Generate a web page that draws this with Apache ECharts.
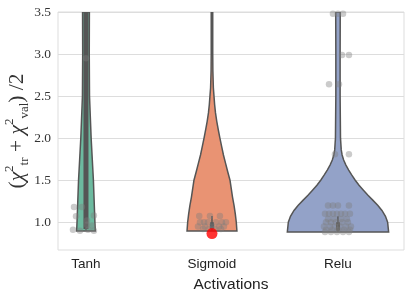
<!DOCTYPE html>
<html><head><meta charset="utf-8">
<script src="https://cdn.jsdelivr.net/npm/echarts@6/dist/echarts.min.js"></script>
<style>html,body{margin:0;padding:0;background:#fff}#c{width:411px;height:296px}</style>
</head><body><div id="c"></div>
<script>
// ---- data ----
const categories = ['Tanh', 'Sigmoid', 'Relu'];
const yTicks = [1.0, 1.5, 2.0, 2.5, 3.0, 3.5];

// violin outlines: value levels and half-widths (x-axis units)
const tanhLevels = [0.896, 1.0, 1.25, 1.5, 1.75, 2.0, 2.5, 3.0, 3.5];
const tanhHalf   = [0.074, 0.071, 0.065, 0.059, 0.050, 0.041, 0.028, 0.026, 0.027];
const sigmoidLevels = [0.896, 1.0, 1.1, 1.2, 1.3, 1.4, 1.5, 1.6, 1.7, 1.8, 1.9, 2.0, 2.1, 2.2, 2.3, 2.4, 2.5, 2.6, 2.7, 2.8, 3.0, 3.5];
const sigmoidHalf   = [0.198, 0.193, 0.185, 0.175, 0.163, 0.153, 0.143, 0.125, 0.108, 0.091, 0.077, 0.063, 0.050, 0.038, 0.028, 0.021, 0.016, 0.011, 0.009, 0.007, 0.006, 0.006];
const reluLevels = [0.884, 1.0, 1.07, 1.14, 1.2, 1.26, 1.32, 1.38, 1.44, 1.5, 1.56, 1.62, 1.68, 1.74, 1.8, 1.86, 2.0, 2.5, 3.0, 3.5];
const reluHalf   = [0.402, 0.394, 0.377, 0.349, 0.317, 0.278, 0.238, 0.202, 0.167, 0.137, 0.110, 0.085, 0.063, 0.045, 0.033, 0.026, 0.020, 0.017, 0.017, 0.018];

// inner box: whisker low, q1, q3, whisker high
const boxWhiskerLow  = [0.90, 0.90, 0.885];
const boxQ1          = [0.92, 0.92, 0.90];
const boxQ3          = [3.60, 1.00, 1.00];
const boxWhiskerHigh = [3.60, 1.075, 1.07];

// strip points: jitter offsets (x units) and values
const tanhJitter = [-0.095, -0.032, -0.079, 0.063, 0.008, 0.008, 0.048, -0.103, -0.048, 0.016, 0.063, 0.0];
const tanhVals   = [1.18, 1.18, 1.07, 1.08, 1.02, 0.97, 0.96, 0.91, 0.90, 0.91, 0.90, 2.95];
const sigmoidJitter = [-0.101, -0.016, 0.063, -0.095, -0.063, -0.032, 0.032, 0.079, 0.111, -0.111, -0.056, 0.0, 0.056, 0.095, -0.071, -0.024, 0.024, 0.071];
const sigmoidVals   = [1.075, 1.075, 1.075, 1.0, 1.0, 1.0, 1.0, 1.0, 1.0, 0.95, 0.95, 0.95, 0.95, 0.95, 0.92, 0.92, 0.92, 0.92];
const reluJitter = [-0.040, 0.0, 0.040, 0.032, 0.087, -0.071, 0.008, -0.024, 0.087,
  -0.079, -0.040, 0.0, 0.087, -0.103, -0.071, -0.040, -0.008, 0.024, 0.056, 0.095,
  -0.079, -0.032, 0.024, 0.071, -0.095, -0.056, -0.016, 0.032, 0.079,
  -0.111, -0.063, -0.024, 0.016, 0.063, 0.103, -0.095, -0.048, 0.0, 0.048, 0.095,
  -0.103, -0.056, -0.008, 0.040, 0.087];
const reluVals = [3.48, 3.48, 3.48, 2.99, 2.99, 2.64, 2.64, 1.81, 1.81,
  1.2, 1.2, 1.2, 1.2, 1.1, 1.1, 1.1, 1.1, 1.1, 1.1, 1.1,
  1.04, 1.04, 1.04, 1.04, 1.0, 1.0, 1.0, 1.0, 1.0,
  0.95, 0.95, 0.95, 0.95, 0.95, 0.95, 0.91, 0.91, 0.91, 0.91, 0.91,
  0.885, 0.885, 0.885, 0.885, 0.885];
const highlightCat = 1;
const highlightVal = 0.866;

// ---- styles ----
const fillColors = ['#6cba9f', '#e99373', '#93a2c8'];
const lineColor = '#555555';
const boxWidths = [5, 4, 4];

const violinLevels = [tanhLevels, sigmoidLevels, reluLevels];
const violinHalf = [tanhHalf, sigmoidHalf, reluHalf];

function pts(ci, jit, vals) { return vals.map((v, i) => [ci + jit[i], v]); }
const stripData = [].concat(pts(0, tanhJitter, tanhVals), pts(1, sigmoidJitter, sigmoidVals), pts(2, reluJitter, reluVals));

const chart = echarts.init(document.getElementById('c'), null, {renderer: 'canvas'});
chart.setOption({
  animation: false,
  grid: {left: 58, right: 7, top: 12, bottom: 46, outerBoundsMode: 'none', containLabel: false,
    show: true, borderColor: '#dddddd', borderWidth: 1, backgroundColor: '#fff'},
  xAxis: {
    type: 'value', min: -0.222, max: 2.524,
    axisLine: {show: false}, axisTick: {show: false}, splitLine: {show: false},
    axisLabel: {customValues: [0, 1, 2], formatter: v => categories[Math.round(v)], fontFamily: 'Liberation Sans', fontSize: 13.5, color: '#222', margin: 7},
    name: 'Activations', nameLocation: 'middle', nameGap: 27, nameMoveOverlap: false,
    nameTextStyle: {fontFamily: 'Liberation Sans', fontSize: 15.5, color: '#222'}
  },
  yAxis: {
    type: 'value', min: 0.67, max: 3.5,
    axisLine: {show: false},
    axisTick: {show: false, customValues: yTicks},
    axisLabel: {customValues: yTicks, formatter: v => v.toFixed(1), fontFamily: 'Liberation Serif', fontSize: 13.5, color: '#333', margin: 7},
    splitLine: {show: true, lineStyle: {color: '#dddddd', width: 1}},
    name: '{p|(}{c|χ}{sup|2}{sub|tr}{p| + }{c|χ}{sup|2}{sub|val}{p|) /2}',
    nameLocation: 'middle', nameGap: 27, nameMoveOverlap: false,
    nameTextStyle: {
      fontFamily: 'Liberation Serif', fontSize: 21.5, color: '#333',
      rich: {
        p: {fontFamily: 'Liberation Serif', fontSize: 21.5, color: '#333', lineHeight: 28, verticalAlign: 'middle'},
        c: {fontFamily: 'Liberation Serif', fontSize: 21.5, color: '#333', fontStyle: 'italic', lineHeight: 28, verticalAlign: 'middle'},
        sup: {fontFamily: 'Liberation Serif', fontSize: 13, color: '#333', lineHeight: 28, verticalAlign: 'top'},
        sub: {fontFamily: 'Liberation Serif', fontSize: 13, color: '#333', lineHeight: 28, verticalAlign: 'bottom'}
      }
    }
  },
  series: [
    {
      type: 'custom', clip: true, z: 2,
      data: categories.map((c, i) => [i]),
      renderItem: function (params, api) {
        const ci = params.dataIndex;
        const lv = violinLevels[ci], hw = violinHalf[ci];
        const right = lv.map((y, k) => api.coord([ci + hw[k], y]));
        const left = lv.map((y, k) => api.coord([ci - hw[k], y])).reverse();
        const poly = right.concat(left);
        const cx = api.coord([ci, 1])[0];
        const children = [{
          type: 'polygon', shape: {points: poly},
          style: {fill: fillColors[ci], stroke: lineColor, lineWidth: 1.5}
        }];
        const wl = api.coord([ci, boxWhiskerLow[ci]]), wh = api.coord([ci, boxWhiskerHigh[ci]]);
        const q1 = api.coord([ci, boxQ1[ci]]), q3 = api.coord([ci, boxQ3[ci]]);
        children.push({type: 'line', shape: {x1: cx, y1: wl[1], x2: cx, y2: wh[1]}, style: {stroke: lineColor, lineWidth: 1.5}});
        children.push({type: 'line', shape: {x1: cx, y1: q1[1], x2: cx, y2: q3[1]}, style: {stroke: lineColor, lineWidth: boxWidths[ci]}});
        return {type: 'group', children: children};
      }
    },
    {
      type: 'scatter', z: 3, symbolSize: 6.5, data: stripData,
      itemStyle: {color: 'rgba(125,125,125,0.5)'}, silent: true
    },
    {
      type: 'scatter', z: 4, symbolSize: 11, data: [[highlightCat, highlightVal]],
      itemStyle: {color: '#ff0000'}, silent: true
    }
  ]
});
</script></body></html>
